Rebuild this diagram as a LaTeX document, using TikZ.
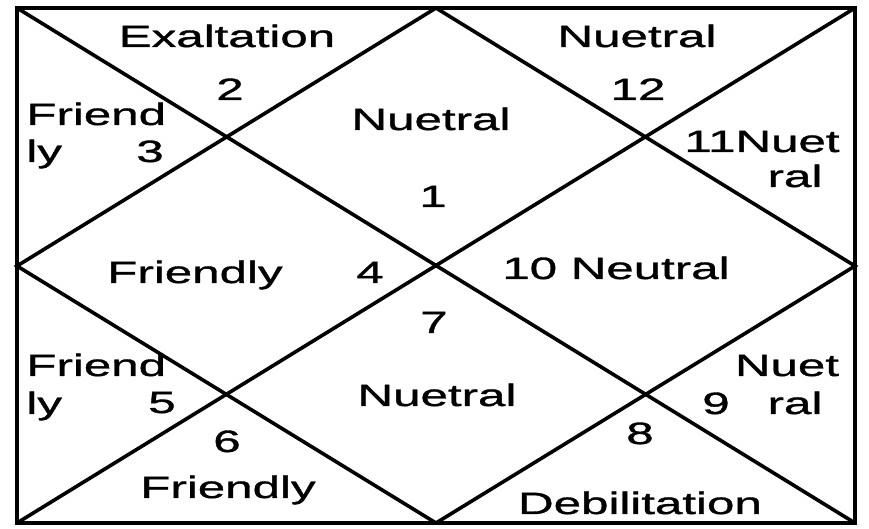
\documentclass[tikz,border=0pt]{standalone}
\usepackage{fontspec}
\newfontfamily\chartfont[FakeStretch=1.6, FakeBold=1.2]{Liberation Sans}
\usetikzlibrary{positioning}

\begin{document}
\begin{tikzpicture}[
    x=0.5pt, y=-0.5pt,
    frame/.style={line width=1.8pt, line join=miter},
    lbl/.style={font={\chartfont\fontsize{15.4}{18}\selectfont}, inner sep=0pt, anchor=base},
    lblw/.style={lbl, anchor=base west}
]
    \useasboundingbox (0,0) rectangle (869,529);

    % corners and midpoints of the chart
    \coordinate (tl) at (17,8);
    \coordinate (tr) at (855,8);
    \coordinate (bl) at (17,523);
    \coordinate (br) at (855,523);
    \coordinate (tm) at (436,8);
    \coordinate (bm) at (436,523);
    \coordinate (lm) at (17,266);
    \coordinate (rm) at (855,266);

    \draw[frame] (tl) rectangle (br);
    \draw[frame] (tl) -- (br);
    \draw[frame] (tr) -- (bl);
    \draw[frame] (tm) -- (rm) -- (bm) -- (lm) -- cycle;

    % top row
    \node[lbl] (exalt) at (227,47) {Exaltation};
    \node[lbl] (h2) at (230,100) {2};
    \node[lbl] (ntop) at (637,47) {Nuetral};
    \node[lbl] (h12) at (638,100) {12};

    % house 3
    \node[lblw] (fr3a) at (26,125) {Friend};
    \node[lblw] (fr3b) at (26,162) {ly};
    \node[lbl] (h3) at (150,162) {3};

    % house 1
    \node[lbl] (n1) at (431,130) {Nuetral};
    \node[lbl] (h1) at (433,207) {1};

    % house 11
    \node[lbl] (n11a) at (762,152) {11Nuet};
    \node[lbl] (n11b) at (795,187) {ral};

    % middle row
    \node[lbl] (fr4) at (195,283) {Friendly};
    \node[lbl] (h4) at (370,283) {4};
    \node[lbl] (n10) at (616,279) {10 Neutral};
    \node[lbl] (h7) at (434,333) {7};

    % house 5
    \node[lblw] (fr5a) at (26,376) {Friend};
    \node[lblw] (fr5b) at (26,414) {ly};
    \node[lbl] (h5) at (162,413) {5};

    % house 7
    \node[lbl] (n7) at (437,406) {Nuetral};

    % house 9
    \node[lbl] (n9a) at (787,376) {Nuet};
    \node[lbl] (h9) at (716,414) {9};
    \node[lbl] (n9b) at (795,414) {ral};

    % bottom row
    \node[lbl] (h6) at (227,452) {6};
    \node[lbl] (fr6) at (228,498) {Friendly};
    \node[lbl] (h8) at (640,444) {8};
    \node[lbl] (debil) at (640,514) {Debilitation};
\end{tikzpicture}
\end{document}
